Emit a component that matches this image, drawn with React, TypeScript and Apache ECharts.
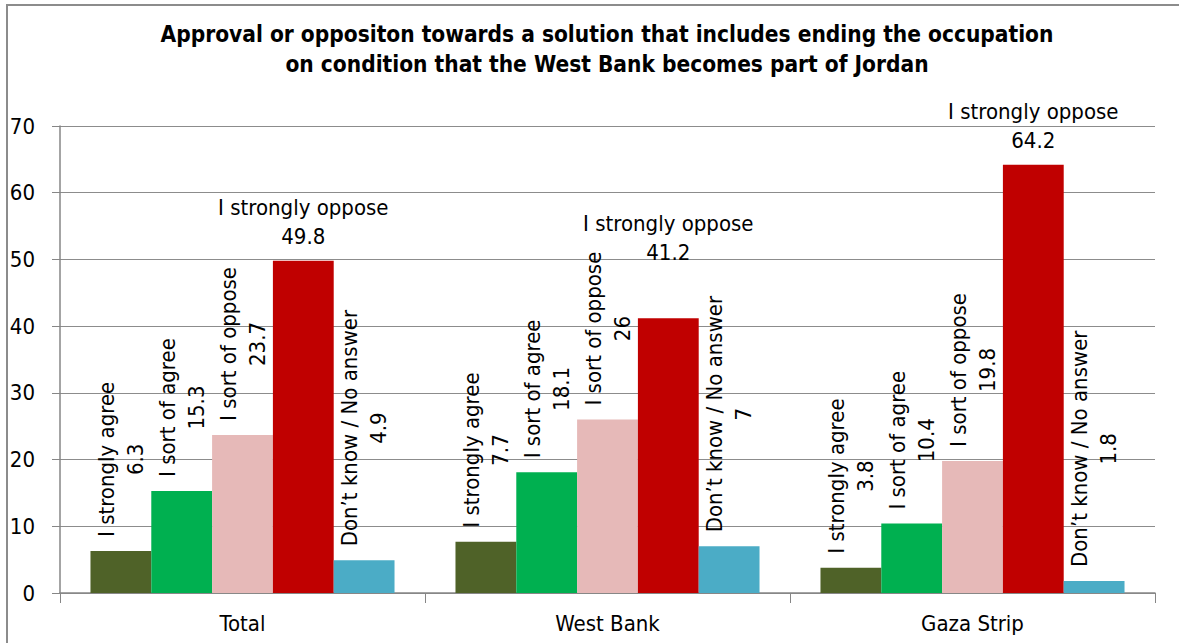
import React, { useEffect, useRef } from "react";
import * as echarts from "echarts";

const categories = ["Total", "West Bank", "Gaza Strip"];
const seriesNames = [
  "I strongly agree",
  "I sort of agree",
  "I sort of oppose",
  "I strongly oppose",
  "Don’t know / No answer",
];
const stronglyAgree = [6.3, 7.7, 3.8];
const sortOfAgree = [15.3, 18.1, 10.4];
const sortOfOppose = [23.7, 26, 19.8];
const stronglyOppose = [49.8, 41.2, 64.2];
const dontKnow = [4.9, 7, 1.8];
const seriesValues = [stronglyAgree, sortOfAgree, sortOfOppose, stronglyOppose, dontKnow];
const colors = ["#4F6228", "#00B050", "#E6B9B8", "#C00000", "#4BACC6"];
const yTicks = { min: 0, max: 70, interval: 10 };
const titleText =
  "Approval or oppositon towards a solution that includes ending the occupation\non condition that the West Bank becomes part of Jordan";

const FONT = "DejaVu Sans Condensed, Open Sans, sans-serif";
// label of "I strongly oppose" in West Bank is lifted to avoid overlapping (as in the original)
const liftedLabel = { series: 3, index: 1, offsetY: -41 };

export default function App() {
  const ref = useRef<HTMLDivElement>(null);
  useEffect(() => {
    document.body.style.margin = "0";
    const chart = echarts.init(ref.current!, null, { renderer: "svg" });
    const series = seriesNames.map((name, i) => {
      const horizontal = i === 3;
      const data = seriesValues[i].map((v, j) =>
        i === liftedLabel.series && j === liftedLabel.index
          ? { value: v, label: { offset: [0, liftedLabel.offsetY] } }
          : v
      );
      return {
        name,
        type: "bar",
        data,
        barGap: "0%",
        barCategoryGap: "16.7%",
        itemStyle: { color: colors[i] },
        label: horizontal
          ? {
              show: true,
              position: "top",
              distance: 10,
              formatter: (p: any) => `${p.seriesName}\n${p.value}`,
              fontFamily: FONT,
              fontSize: 22,
              lineHeight: 29,
              color: "#000",
              align: "center",
            }
          : {
              show: true,
              position: "top",
              distance: 14,
              rotate: 90,
              align: "left",
              verticalAlign: "middle",
              formatter: (p: any) => `{n|${p.seriesName}}\n{v|${p.value}}`,
              rich: {
                n: { fontFamily: FONT, fontSize: 22, lineHeight: 29, color: "#000" },
                v: { fontFamily: FONT, fontSize: 22, lineHeight: 29, color: "#000", align: "center" },
              },
            },
      };
    });
    chart.setOption({
      animation: false,
      backgroundColor: "#fff",
      title: {
        text: titleText,
        left: 602,
        textAlign: "center",
        top: 14,
        textStyle: {
          fontFamily: FONT,
          fontWeight: "bold",
          fontSize: 22.5,
          lineHeight: 30,
          color: "#000",
        },
      },
      graphic: [
        {
          type: "rect",
          shape: { x: 7, y: 5, width: 1300, height: 800 },
          style: { fill: "none", stroke: "#8c8c8c", lineWidth: 2 },
          silent: true,
        },
      ],
      grid: { left: 60, right: 24, top: 126, bottom: 50 },
      xAxis: {
        type: "category",
        data: categories,
        axisLine: { lineStyle: { color: "#868686", width: 1.5 } },
        axisTick: { show: true, length: 10, lineStyle: { color: "#868686" } },
        axisLabel: { fontFamily: FONT, fontSize: 22, color: "#000", margin: 19 },
      },
      yAxis: {
        type: "value",
        min: yTicks.min,
        max: yTicks.max,
        interval: yTicks.interval,
        axisLine: { show: true, lineStyle: { color: "#868686", width: 1.5 } },
        axisTick: { show: true, length: 8, lineStyle: { color: "#868686" } },
        axisLabel: { fontFamily: FONT, fontSize: 22, color: "#000", margin: 25 },
        splitLine: { lineStyle: { color: "#8c8c8c", width: 1 } },
      },
      series,
    });
    return () => chart.dispose();
  }, []);
  return <div ref={ref} style={{ width: 1179, height: 643 }} />;
}
